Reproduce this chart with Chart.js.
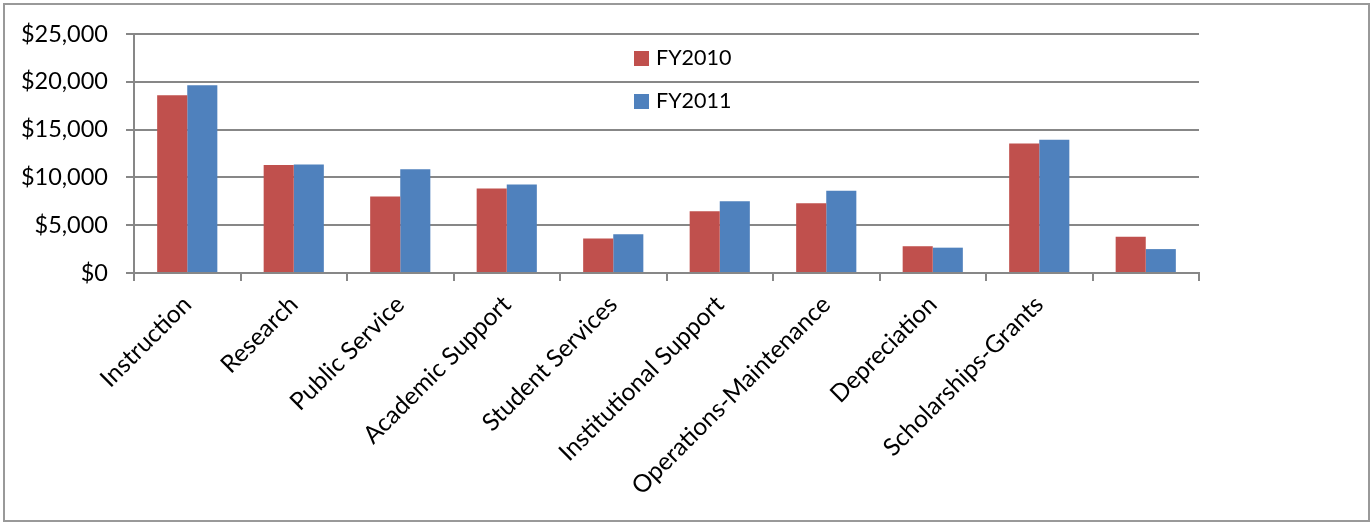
<!DOCTYPE html>
<html>
<head>
<meta charset="utf-8">
<script src="https://cdn.jsdelivr.net/npm/chart.js@4/dist/chart.umd.min.js"></script>
<style>
  html, body { margin: 0; padding: 0; background: #fff; }
  #wrap { position: relative; width: 1371px; height: 523px; }
</style>
</head>
<body>
<div id="wrap"><canvas id="barChart" width="1371" height="523"></canvas></div>
<script>
const categories = ['Instruction', 'Research', 'Public Service', 'Academic Support', 'Student Services',
    'Institutional Support', 'Operations-Maintenance', 'Depreciation', 'Scholarships-Grants', ''];
const fy2010 = [18600, 11300, 8000, 8850, 3600, 6450, 7300, 2800, 13550, 3800];
const fy2011 = [19650, 11350, 10850, 9250, 4050, 7500, 8600, 2650, 13950, 2500];
const yTicks = [0, 5000, 10000, 15000, 20000, 25000];

const FONT = 'Lato, "Liberation Sans", sans-serif';
const GRID = '#878787';

// outer frame + legend drawn inside the plot area
const framePlugin = {
    id: 'frame',
    beforeDraw: (chart) => {
        const ctx = chart.ctx;
        ctx.save();
        ctx.fillStyle = '#fff';
        ctx.fillRect(0, 0, chart.width, chart.height);
        ctx.strokeStyle = '#999';
        ctx.lineWidth = 2;
        ctx.strokeRect(4, 4, 1365, 517);
        ctx.restore();
    },
    afterDraw: (chart) => {
        const ctx = chart.ctx;
        ctx.save();
        ctx.font = '21.5px ' + FONT;
        ctx.textBaseline = 'middle';
        chart.data.datasets.forEach((ds, i) => {
            const y = 58 + i * 43;
            ctx.fillStyle = ds.backgroundColor;
            ctx.fillRect(634, y - 7, 15, 15);
            ctx.fillStyle = '#000';
            ctx.fillText(ds.label, 656, y);
        });
        ctx.restore();
    }
};

new Chart(document.getElementById('barChart').getContext('2d'), {
    type: 'bar',
    data: {
        labels: categories,
        datasets: [
            { label: 'FY2010', data: fy2010, backgroundColor: '#C0504D' },
            { label: 'FY2011', data: fy2011, backgroundColor: '#4F81BD' }
        ]
    },
    options: {
        responsive: false,
        animation: false,
        layout: { padding: { left: 0, right: 172, top: 34, bottom: 0 } },
        datasets: { bar: { categoryPercentage: 0.565, barPercentage: 1.0 } },
        plugins: { legend: { display: false }, tooltip: { enabled: false } },
        scales: {
            x: {
                afterFit: (s) => { s.height = 250; },
                grid: { offset: true, drawOnChartArea: false, color: GRID, lineWidth: 2, tickLength: 8 },
                border: { color: GRID, width: 2 },
                ticks: { color: '#000', font: { family: FONT, size: 24.5 }, minRotation: 45, maxRotation: 45, padding: 9, autoSkip: false }
            },
            y: {
                min: 0,
                max: 25000,
                afterFit: (s) => { s.width = 134; },
                afterBuildTicks: (s) => { s.ticks = yTicks.map(v => ({ value: v })); },
                grid: { color: GRID, lineWidth: 2, tickLength: 8 },
                border: { color: GRID, width: 2 },
                ticks: {
                    color: '#000',
                    padding: 18,
                    font: { family: FONT, size: 23.5 },
                    callback: (v) => '$' + v.toLocaleString('en-US')
                }
            }
        }
    },
    plugins: [framePlugin]
});
</script>
</body>
</html>
